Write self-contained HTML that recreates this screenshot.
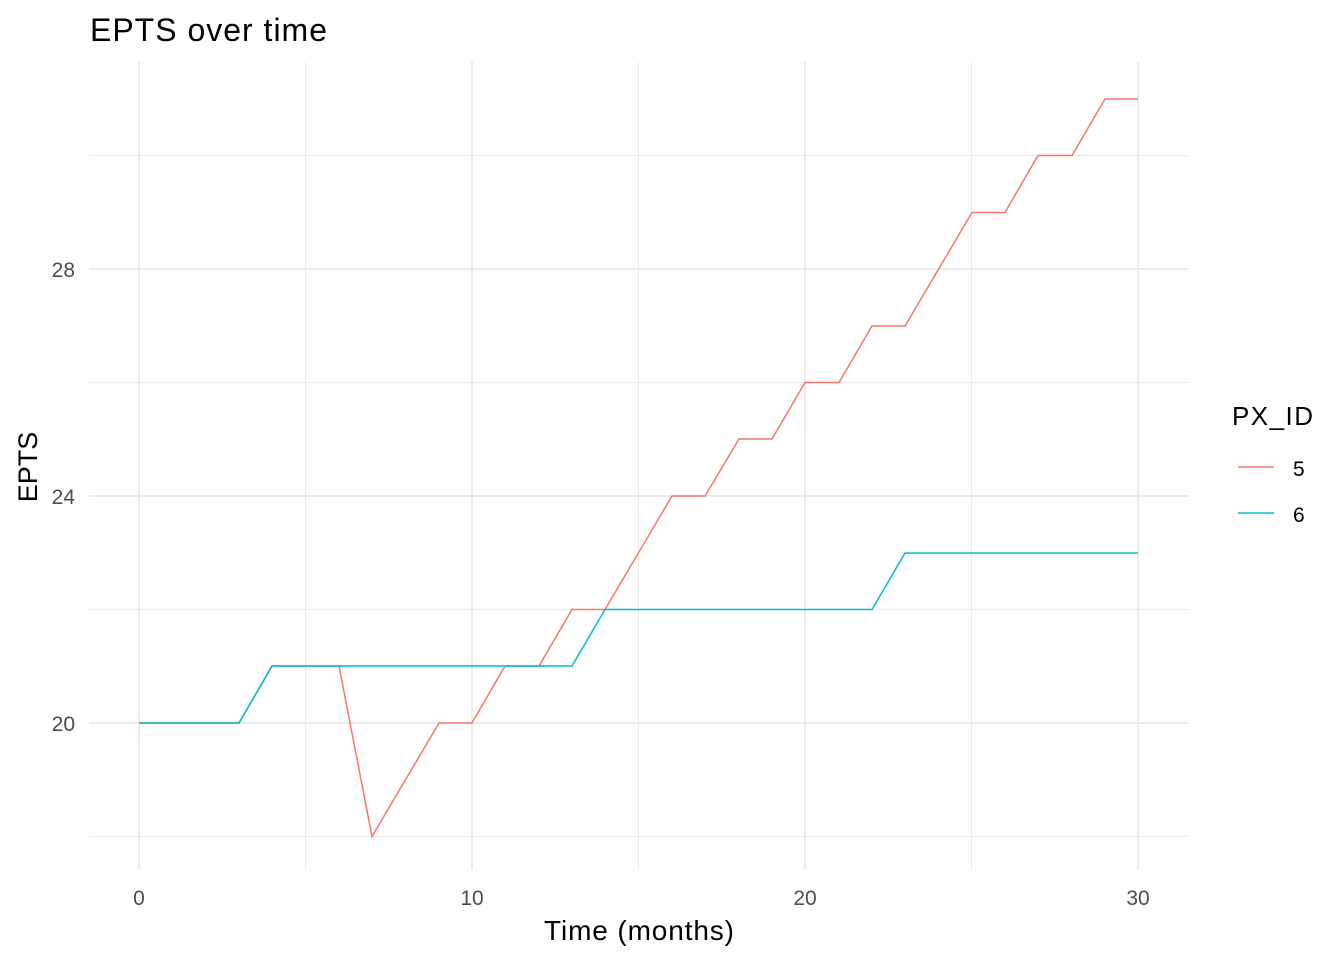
<!DOCTYPE html>
<html><head><meta charset="utf-8"><style>body{margin:0;background:#fff}svg{display:block}</style></head><body>
<svg width="1344" height="960" xmlns="http://www.w3.org/2000/svg" font-family="Liberation Sans, Arial, sans-serif">
<rect width="1344" height="960" fill="#fff"/>
<g stroke="#ebebeb" stroke-width="1">
<line x1="89" x2="1188" y1="836.5" y2="836.5"/><line x1="89" x2="1188" y1="609.5" y2="609.5"/>
<line x1="89" x2="1188" y1="382.5" y2="382.5"/><line x1="89" x2="1188" y1="155.5" y2="155.5"/>
<line x1="305.5" x2="305.5" y1="62" y2="870"/><line x1="638.5" x2="638.5" y1="62" y2="870"/><line x1="971.5" x2="971.5" y1="62" y2="870"/>
</g>
<g stroke="#ebebeb" stroke-width="2">
<line x1="89" x2="1188" y1="723" y2="723"/><line x1="89" x2="1188" y1="496" y2="496"/><line x1="89" x2="1188" y1="269" y2="269"/>
<line x1="139" x2="139" y1="62" y2="870"/><line x1="472" x2="472" y1="62" y2="870"/><line x1="805" x2="805" y1="62" y2="870"/><line x1="1138" x2="1138" y1="62" y2="870"/>
</g>
<polyline fill="none" stroke="#F8766D" stroke-width="1.5" points="139,723 239,723 272,666 339,666 372,836.5 439,723 472,723 505,666 539,666 572,609.5 605,609.5 672,496 705,496 739,439 772,439 805,382.5 839,382.5 872,326 905,326 972,212.5 1005,212.5 1038,155.5 1072,155.5 1105,99 1138,99"/>
<polyline fill="none" stroke="#00BFC4" stroke-width="1.5" points="139,723 239,723 272,666 572,666 605,609.5 872,609.5 905,553 1138,553"/>
<g fill="#4d4d4d" font-size="21">
<text x="75" y="731" text-anchor="end">20</text><text x="75" y="504" text-anchor="end">24</text><text x="75" y="277" text-anchor="end">28</text>
<text x="139" y="905" text-anchor="middle">0</text><text x="472" y="905" text-anchor="middle">10</text><text x="805" y="905" text-anchor="middle">20</text><text x="1138" y="905" text-anchor="middle">30</text>
</g>
<text x="639" y="940" text-anchor="middle" font-size="28" fill="#000" textLength="190">Time (months)</text>
<text transform="translate(37,467) rotate(-90)" text-anchor="middle" font-size="27" fill="#000">EPTS</text>
<text x="90" y="41" font-size="32" fill="#000" textLength="237">EPTS over time</text>
<text x="1232" y="425" font-size="26" fill="#000" textLength="81">PX_ID</text>
<line x1="1238" x2="1274" y1="467" y2="467" stroke="#F8766D" stroke-width="1.5"/>
<line x1="1238" x2="1274" y1="513" y2="513" stroke="#00BFC4" stroke-width="1.5"/>
<text x="1293" y="476" font-size="21" fill="#000">5</text><text x="1293" y="522" font-size="21" fill="#000">6</text>
</svg>
</body></html>
